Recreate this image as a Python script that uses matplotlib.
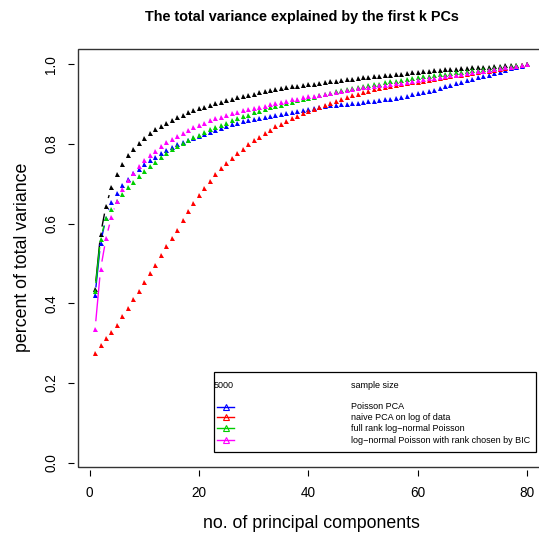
import numpy as np
import matplotlib
matplotlib.use('Agg')
import matplotlib.pyplot as plt
from matplotlib.collections import LineCollection
from matplotlib.lines import Line2D
from matplotlib.patches import Rectangle

plt.rcParams['font.family'] = ['Liberation Sans', 'DejaVu Sans']

# number of principal components
k = np.arange(1, 81)

# cumulative share of variance for each method
black_vals = [0.435, 0.573, 0.645, 0.691, 0.725, 0.751, 0.772, 0.788, 0.803, 0.816,
              0.827, 0.837, 0.845, 0.853, 0.861, 0.868, 0.874, 0.880, 0.885, 0.890,
              0.894, 0.898, 0.902, 0.906, 0.910, 0.914, 0.917, 0.920, 0.923, 0.926,
              0.930, 0.932, 0.935, 0.937, 0.940, 0.942, 0.945, 0.946, 0.948, 0.950,
              0.951, 0.953, 0.955, 0.957, 0.959, 0.961, 0.962, 0.964, 0.966, 0.967,
              0.969, 0.970, 0.971, 0.972, 0.974, 0.976, 0.976, 0.978, 0.980, 0.981,
              0.982, 0.983, 0.985, 0.986, 0.987, 0.988, 0.989, 0.990, 0.991, 0.992,
              0.993, 0.993, 0.994, 0.995, 0.996, 0.997, 0.997, 0.998, 0.999, 1.000]
poisson_pca = [0.420, 0.551, 0.615, 0.655, 0.678, 0.696, 0.712, 0.726, 0.738, 0.749,
               0.759, 0.768, 0.777, 0.785, 0.792, 0.799, 0.805, 0.810, 0.815, 0.820,
               0.825, 0.830, 0.835, 0.839, 0.845, 0.849, 0.853, 0.857, 0.860, 0.862,
               0.865, 0.868, 0.870, 0.873, 0.876, 0.878, 0.881, 0.884, 0.886, 0.889,
               0.891, 0.893, 0.895, 0.897, 0.899, 0.900, 0.901, 0.903, 0.904, 0.905,
               0.907, 0.909, 0.910, 0.912, 0.914, 0.916, 0.919, 0.921, 0.925, 0.927,
               0.930, 0.933, 0.936, 0.940, 0.946, 0.948, 0.952, 0.956, 0.960, 0.964,
               0.967, 0.971, 0.974, 0.978, 0.981, 0.985, 0.990, 0.992, 0.996, 1.000]
naive_pca = [0.276, 0.296, 0.312, 0.328, 0.345, 0.367, 0.389, 0.410, 0.431, 0.454,
             0.477, 0.495, 0.521, 0.543, 0.563, 0.585, 0.608, 0.633, 0.652, 0.672,
             0.690, 0.706, 0.724, 0.739, 0.753, 0.765, 0.777, 0.788, 0.799, 0.809,
             0.818, 0.828, 0.835, 0.844, 0.851, 0.858, 0.865, 0.871, 0.877, 0.883,
             0.889, 0.894, 0.899, 0.904, 0.908, 0.913, 0.918, 0.922, 0.926, 0.930,
             0.933, 0.937, 0.941, 0.943, 0.946, 0.948, 0.951, 0.952, 0.955, 0.956,
             0.958, 0.961, 0.964, 0.966, 0.968, 0.970, 0.972, 0.974, 0.976, 0.978,
             0.980, 0.982, 0.984, 0.986, 0.988, 0.990, 0.993, 0.995, 0.998, 1.000]
full_rank = [0.431, 0.561, 0.614, 0.638, 0.658, 0.674, 0.691, 0.705, 0.720, 0.733,
             0.745, 0.756, 0.767, 0.777, 0.787, 0.795, 0.803, 0.811, 0.818, 0.823,
             0.829, 0.837, 0.842, 0.848, 0.853, 0.859, 0.865, 0.869, 0.874, 0.880,
             0.884, 0.888, 0.892, 0.895, 0.899, 0.902, 0.906, 0.910, 0.913, 0.915,
             0.919, 0.922, 0.925, 0.929, 0.932, 0.935, 0.937, 0.940, 0.942, 0.945,
             0.947, 0.950, 0.951, 0.955, 0.957, 0.959, 0.961, 0.963, 0.965, 0.967,
             0.970, 0.971, 0.973, 0.975, 0.976, 0.978, 0.980, 0.981, 0.983, 0.985,
             0.986, 0.988, 0.989, 0.991, 0.993, 0.994, 0.996, 0.997, 0.999, 1.000]
bic_rank = [0.335, 0.485, 0.563, 0.617, 0.657, 0.686, 0.709, 0.726, 0.745, 0.759,
            0.772, 0.782, 0.794, 0.804, 0.813, 0.821, 0.828, 0.836, 0.842, 0.848,
            0.853, 0.859, 0.864, 0.868, 0.873, 0.878, 0.881, 0.885, 0.889, 0.891,
            0.894, 0.896, 0.900, 0.902, 0.905, 0.909, 0.912, 0.914, 0.917, 0.920,
            0.921, 0.924, 0.926, 0.929, 0.931, 0.934, 0.936, 0.938, 0.940, 0.942,
            0.944, 0.946, 0.947, 0.949, 0.951, 0.952, 0.954, 0.956, 0.959, 0.961,
            0.963, 0.965, 0.966, 0.968, 0.970, 0.972, 0.974, 0.976, 0.978, 0.980,
            0.982, 0.984, 0.986, 0.988, 0.990, 0.992, 0.994, 0.996, 0.998, 1.000]

legend_labels = ['Poisson PCA', 'naive PCA on log of data',
                 'full rank log\u2212normal Poisson',
                 'log\u2212normal Poisson with rank chosen by BIC']
colors = ['blue', 'red', '#00CD00', 'magenta']

fig = plt.figure(figsize=(5.39, 5.35), dpi=100)
ax = fig.add_axes([0.1443, 0.1277, 0.8655, 0.7807])
ax.set_xlim(-2.16, 83.16)
ax.set_ylim(-0.010, 1.0384)


def gapped_line(ax, x, y, color, gap=8.0):
    # R type="b": line pieces that stop short of every point
    pts = ax.transData.transform(np.column_stack([x, y]))
    inv = ax.transData.inverted()
    segs = []
    for p, q in zip(pts[:-1], pts[1:]):
        d = q - p
        L = np.hypot(d[0], d[1])
        if L > 2 * gap:
            u = d / L
            segs.append(inv.transform(np.array([p + u * gap, q - u * gap])))
    ax.add_collection(LineCollection(segs, colors=color, linewidths=1.0))
    ax.plot(x, y, linestyle='none', marker='^', markersize=3.6,
            markeredgewidth=0, color=color)


series = [black_vals, poisson_pca, naive_pca, full_rank, bic_rank]
series_colors = ['black'] + colors
for vals, c in zip(series, series_colors):
    gapped_line(ax, k, vals, c)

# box + ticks sitting a little off the box
for s in ['left', 'bottom']:
    ax.spines[s].set_position(('outward', 2.7))
    ax.spines[s].set_edgecolor('none')
for s in ['top', 'right']:
    ax.spines[s].set_visible(False)
ax.add_patch(Rectangle((0, 0), 1, 1, transform=ax.transAxes, fill=False,
                       edgecolor='#333333', linewidth=1.0, clip_on=False))

ax.set_xticks([0, 20, 40, 60, 80])
ax.set_yticks([0.0, 0.2, 0.4, 0.6, 0.8, 1.0])
ax.set_yticklabels(['0.0', '0.2', '0.4', '0.6', '0.8', '1.0'],
                   rotation=90, va='center')
ax.tick_params(direction='out', length=4.3, width=0.8, labelsize=9.8,
               pad=7, colors='black')

fig.text(302 / 539, 1 - 16.7 / 535, 'The total variance explained by the first k PCs',
         ha='center', va='center', fontsize=10.4, fontweight='bold')
fig.text(311 / 539, 1 - 523 / 535, 'no. of principal components',
         ha='center', va='center', fontsize=12.8)
fig.text(22.5 / 539, 1 - 257.5 / 535, 'percent of total variance',
         ha='center', va='center', fontsize=12.8, rotation=90)

# legend drawn by hand in pixel positions
W, H = 539, 535
fig.patches.append(Rectangle((214.3 / W, 1 - 451.7 / H), (536 - 214.3) / W,
                             (451.7 - 371.7) / H, transform=fig.transFigure,
                             fill=False, edgecolor='black', linewidth=0.9))
fig.text(213.5 / W, 1 - 385 / H, '5000', ha='left', va='center', fontsize=6.5)
fig.text(350.7 / W, 1 - 385 / H, 'sample size', ha='left', va='center', fontsize=6.5)
entry_y = [406.7, 417.3, 428.3, 440.3]
for lab, c, yy in zip(legend_labels, colors, entry_y):
    fig.add_artist(Line2D([216.7 / W, 234.3 / W], [1 - yy / H, 1 - yy / H],
                          transform=fig.transFigure, color=c, linewidth=1.0))
    fig.add_artist(Line2D([225.5 / W], [1 - yy / H], transform=fig.transFigure,
                          color=c, marker='^', markersize=4.3,
                          markerfacecolor='none', markeredgewidth=0.8))
    fig.text(350.7 / W, 1 - yy / H, lab, ha='left', va='center', fontsize=6.5)

plt.savefig('out.png', dpi=100)
